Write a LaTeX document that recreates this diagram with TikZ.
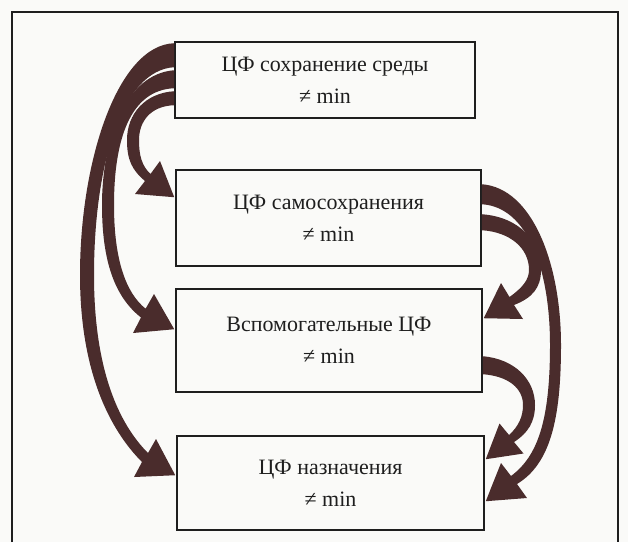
\documentclass[tikz,border=0pt]{standalone}
\usepackage{fontspec}
\setmainfont{Liberation Serif}
\usetikzlibrary{calc}
\definecolor{arrowbrown}{RGB}{74,44,44}
\definecolor{inkgray}{RGB}{30,30,30}
\definecolor{paper}{RGB}{250,250,248}
\tikzset{
  box/.style={draw=inkgray, line width=0.9pt, align=center, inner sep=0pt,
    text=inkgray, font=\fontsize{12.5}{18}\selectfont},
  fatarrow/.style={fill=arrowbrown}
}

\begin{document}
\begin{tikzpicture}[x=0.02cm, y=-0.02cm]
\useasboundingbox (0,0) rectangle (628,542);
\fill[paper] (0,0) rectangle (628,542);
% Frame
    \draw[inkgray, line width=0.7pt] (12,542) -- (12,12) -- (618,12) -- (618,542);
% Boxes
    \node[box, minimum width=6cm, minimum height=1.52cm] (env) at (325,80) {ЦФ сохранение среды\\≠ min};
    \node[box, minimum width=6.1cm, minimum height=1.92cm] (self) at (328.5,218) {ЦФ самосохранения\\≠ min};
    \node[box, minimum width=6.12cm, minimum height=2.06cm] (aux) at (329,340.5) {Вспомогательные ЦФ\\≠ min};
    \node[box, minimum width=6.14cm, minimum height=1.88cm] (goal) at (330.5,483) {ЦФ назначения\\≠ min};
% Arrows on the left
    \fill[fatarrow] ($(env.north west)+(0,2)$) .. controls (118,45) and (80,160) .. (80,275)
        .. controls (80,372) and (110,430) .. (142,462) -- (134,477) -- ($(goal.north west)+(-1,40)$)
        -- (156,439) -- (148,453) .. controls (120,425) and (94,372) .. (94,275)
        .. controls (94,165) and (122,70) .. ($(env.north west)+(0,26)$) -- cycle;
    \fill[fatarrow] ($(env.north west)+(0,29)$) .. controls (125,74) and (102,140) .. (102,205)
        .. controls (102,262) and (115,297) .. (141,317.5) -- (133,333) -- ($(aux.north west)+(-1,41)$)
        -- (154,294) -- (145.6,308.7) .. controls (126,293) and (114,260) .. (114,205)
        .. controls (114,140) and (130,90) .. ($(env.north west)+(0,47)$) -- cycle;
    \fill[fatarrow] ($(env.north west)+(0,50)$) .. controls (145,93) and (127,114) .. (127,140)
        .. controls (127,160) and (132,170) .. (145,181) -- (135,194) -- ($(self.north west)+(-1,28)$)
        -- (160,161) -- (150.5,174) .. controls (142,166) and (139,156) .. (139,140)
        .. controls (139,122) and (150,106) .. ($(env.north west)+(0,64)$) -- cycle;
% Arrows on the right
    \fill[fatarrow] ($(self.north east)+(0,15)$) .. controls (533,188) and (561,265) .. (561,345)
        .. controls (561,420) and (550,464) .. (517,484) -- (527,498) -- ($(goal.north east)+(1,66)$)
        -- (501,463) -- (511,476) .. controls (538,456) and (550,420) .. (550,345)
        .. controls (550,270) and (528,207) .. ($(self.north east)+(0,35)$) -- cycle;
    \fill[fatarrow] ($(self.north east)+(0,45)$) .. controls (520,217) and (541,242) .. (541,270)
        .. controls (541,288) and (532,298) .. (514,305) -- (523,319) -- ($(aux.north east)+(1,30)$)
        -- (501,283) -- (509.5,297) .. controls (522,288) and (529,280) .. (529,270)
        .. controls (529,248) and (510,232) .. ($(self.north east)+(0,61)$) -- cycle;
    \fill[fatarrow] ($(aux.north east)+(0,68)$) .. controls (515,359) and (535,380) .. (535,405)
        .. controls (535,422) and (528,433) .. (514,442) -- (523.5,453.5) -- ($(goal.north east)+(1,24)$)
        -- (499.5,423.5) -- (509,435) .. controls (519,426) and (523,416) .. (523,405)
        .. controls (523,388) and (508,376) .. ($(aux.north east)+(0,86)$) -- cycle;
\end{tikzpicture}
\end{document}
